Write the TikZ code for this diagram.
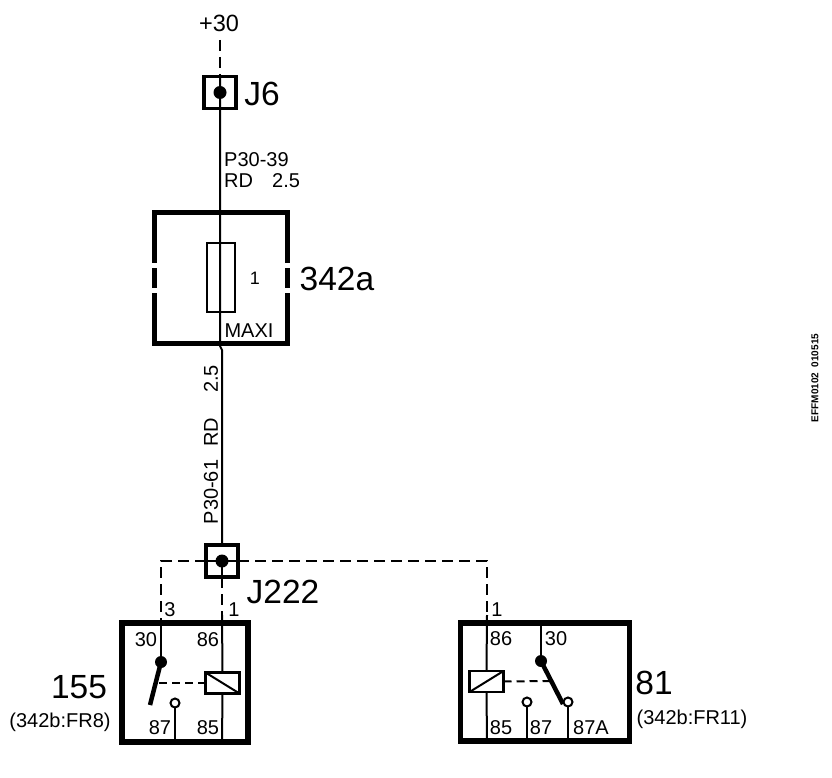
\documentclass[tikz,border=0pt]{standalone}
\usepackage{fontspec}
\setmainfont{Liberation Sans}
\usetikzlibrary{positioning}
\tikzset{
    wire/.style = {line width=2pt},
    dashwire/.style = {line width=2pt, dash pattern=on 11pt off 6pt},
    relaybox/.style = {rectangle, draw, line width=5.5pt, inner sep=0pt, outer sep=0pt},
    jbox/.style = {rectangle, draw, line width=3.5pt, inner sep=0pt, outer sep=0pt, minimum width=32pt, minimum height=32pt},
    coil/.style = {rectangle, draw, line width=2.5pt, inner sep=0pt, outer sep=0pt, minimum width=34pt, minimum height=21pt},
    dot/.style = {circle, fill=black, inner sep=0pt, outer sep=0pt, minimum size=13pt},
    contact/.style = {circle, draw, fill=white, line width=2pt, inner sep=0pt, outer sep=0pt, minimum size=9pt},
    blade/.style = {line width=4.5pt},
    pin/.style = {font=\fontsize{20}{20}\selectfont, inner sep=0pt},
    big/.style = {font=\fontsize{33.5}{33.5}\selectfont, inner sep=0pt},
    small/.style = {font=\fontsize{20}{20}\selectfont, inner sep=0pt}
}
\begin{document}
\begin{tikzpicture}[x=1pt, y=-1pt]
    \useasboundingbox (0,0) rectangle (832,778);

    % Boxes
    \node[jbox] (J6) at (220,92.5) {};
    \node[relaybox, minimum width=133pt, minimum height=131pt] (F342) at (221,278) {};
    \node[jbox] (J222) at (222,561) {};
    \node[relaybox, minimum width=126pt, minimum height=119pt] (R155) at (185,682.5) {};
    \node[relaybox, minimum width=169pt, minimum height=118pt] (R81) at (545,682) {};

    % Gaps in the side walls of the fuse box
    \fill[white] (149,262.5) rectangle (158,267.5);
    \fill[white] (149,288) rectangle (158,293);
    \fill[white] (284,262.5) rectangle (293,267.5);
    \fill[white] (284,288) rectangle (293,293);

    % Fuse
    \node[draw, line width=2pt, inner sep=0pt, outer sep=0pt, minimum width=28pt, minimum height=69pt] (fuse) at (221,277.5) {};

    % Coils and contacts
    \node[coil] (coilA) at (222.5,683) {};
    \node[coil] (coilB) at (486.5,681.5) {};
    \node[dot] (J6dot) at (220,92.5) {};
    \node[dot] (J222dot) at (222,561) {};
    \node[dot, minimum size=12pt] (armA) at (161,662) {};
    \node[dot, minimum size=12pt] (armB) at (541,661) {};

    % Free ends
    \coordinate (top) at (220,40);
    \coordinate (wireJ6) at (220,75);
    \coordinate (bendL) at (161,561);
    \coordinate (bendR) at (487,561);
    \coordinate (inA30) at (161,622);
    \coordinate (inA86) at (222,622);
    \coordinate (inB86) at (487,622);
    \coordinate (inB30) at (541,622);
    \coordinate (bladeA) at (150,705);
    \coordinate (bladeB) at (563,704);
    \coordinate (floorA87) at (175,742);
    \coordinate (floorA85) at (222,742);
    \coordinate (floorB85) at (487,741);
    \coordinate (floorB87) at (527,741);
    \coordinate (floorB87A) at (568,741);
    \coordinate (linkA) at (157,683);
    \coordinate (linkB) at (550,681);

    % Wires
    \draw[dashwire] (top) -- (wireJ6);
    \draw[wire] (wireJ6) -- (220,346) -- (222,350) -- (J222.north);
    \draw[wire] (J222.west) -- (J222.east);
    \draw[wire] (J222.center) -- (J222.south);
    \draw[dashwire] (J222.west) -- (bendL) -- (inA30);
    \draw[dashwire] (J222.east) -- (bendR) -- (inB86);
    \draw[dashwire] (J222.south) -- (inA86);
    \draw[wire] (inA86 |- 0,615) -- (coilA.north);
    \draw[wire] (coilA.south) -- (floorA85);
    \draw[wire] (inB86 |- 0,615) -- (coilB.north);
    \draw[wire] (coilB.south) -- (floorB85);
    \draw[wire] (inA30) -- (armA);
    \draw[wire] (inB30) -- (armB);
    \draw[wire] (175,703) -- (floorA87);
    \draw[wire] (527,702) -- (floorB87);
    \draw[wire] (568,702) -- (floorB87A);
    \draw[blade] (armA.center) -- (bladeA);
    \draw[blade] (armB.center) -- (bladeB);
    \draw[line width=2pt, dash pattern=on 8pt off 5pt] (coilA.west) -- (linkA);
    \draw[line width=2pt, dash pattern=on 8pt off 5pt] (coilB.east) -- (linkB);
    \draw[line width=2pt] (coilA.north west) -- (coilA.south east);
    \draw[line width=2pt] (coilB.south west) -- (coilB.north east);
    \node[contact] (c87A) at (175,703) {};
    \node[contact] (c87B) at (527,702) {};
    \node[contact] (c87AB) at (568,702) {};

    % Labels
    \node[font=\fontsize{23.5}{23.5}\selectfont, inner sep=0pt] (plus) at (219,23) {+30};
    \node[big] (lJ6) at (262,94) {J6};
    \node[small, anchor=west] (lP39) at (224,160) {P30-39};
    \node[small, anchor=west] (lRD) at (224,181) {RD};
    \node[small, anchor=west] (l25) at (272,181) {2.5};
    \node[big] (l342a) at (337,279) {342a};
    \node[font=\fontsize{18}{18}\selectfont, inner sep=0pt] (l1) at (255,278) {1};
    \node[small] (lMAXI) at (249,331) {MAXI};
    \node[small, rotate=90] (r25) at (211,379) {2.5};
    \node[small, rotate=90] (rRD) at (211,432) {RD};
    \node[small, rotate=90] (rP61) at (211,492) {P30-61};
    \node[big] (lJ222) at (283,592) {J222};
    \node[pin] (n3) at (170,610) {3};
    \node[pin] (n1a) at (234,610) {1};
    \node[pin] (n1b) at (497,610) {1};
    \node[pin] (a30) at (146,640) {30};
    \node[pin] (a86) at (208,640) {86};
    \node[pin] (a87) at (160,728) {87};
    \node[pin] (a85) at (208,728) {85};
    \node[pin] (b86) at (501,639) {86};
    \node[pin] (b30) at (556,639) {30};
    \node[pin] (b85) at (501,728) {85};
    \node[pin] (b87) at (541,728) {87};
    \node[pin] (b87A) at (591,728) {87A};
    \node[big] (l155) at (79,687) {155};
    \node[pin] (l155s) at (60,722) {(342b:FR8)};
    \node[big] (l81) at (654,683) {81};
    \node[pin] (l81s) at (692,719) {(342b:FR11)};
    \node[font=\bfseries\fontsize{10}{10}\selectfont, rotate=90, inner sep=0pt] (stamp) at (815,378) {EFFM0102\ \ 010515};
\end{tikzpicture}
\end{document}
